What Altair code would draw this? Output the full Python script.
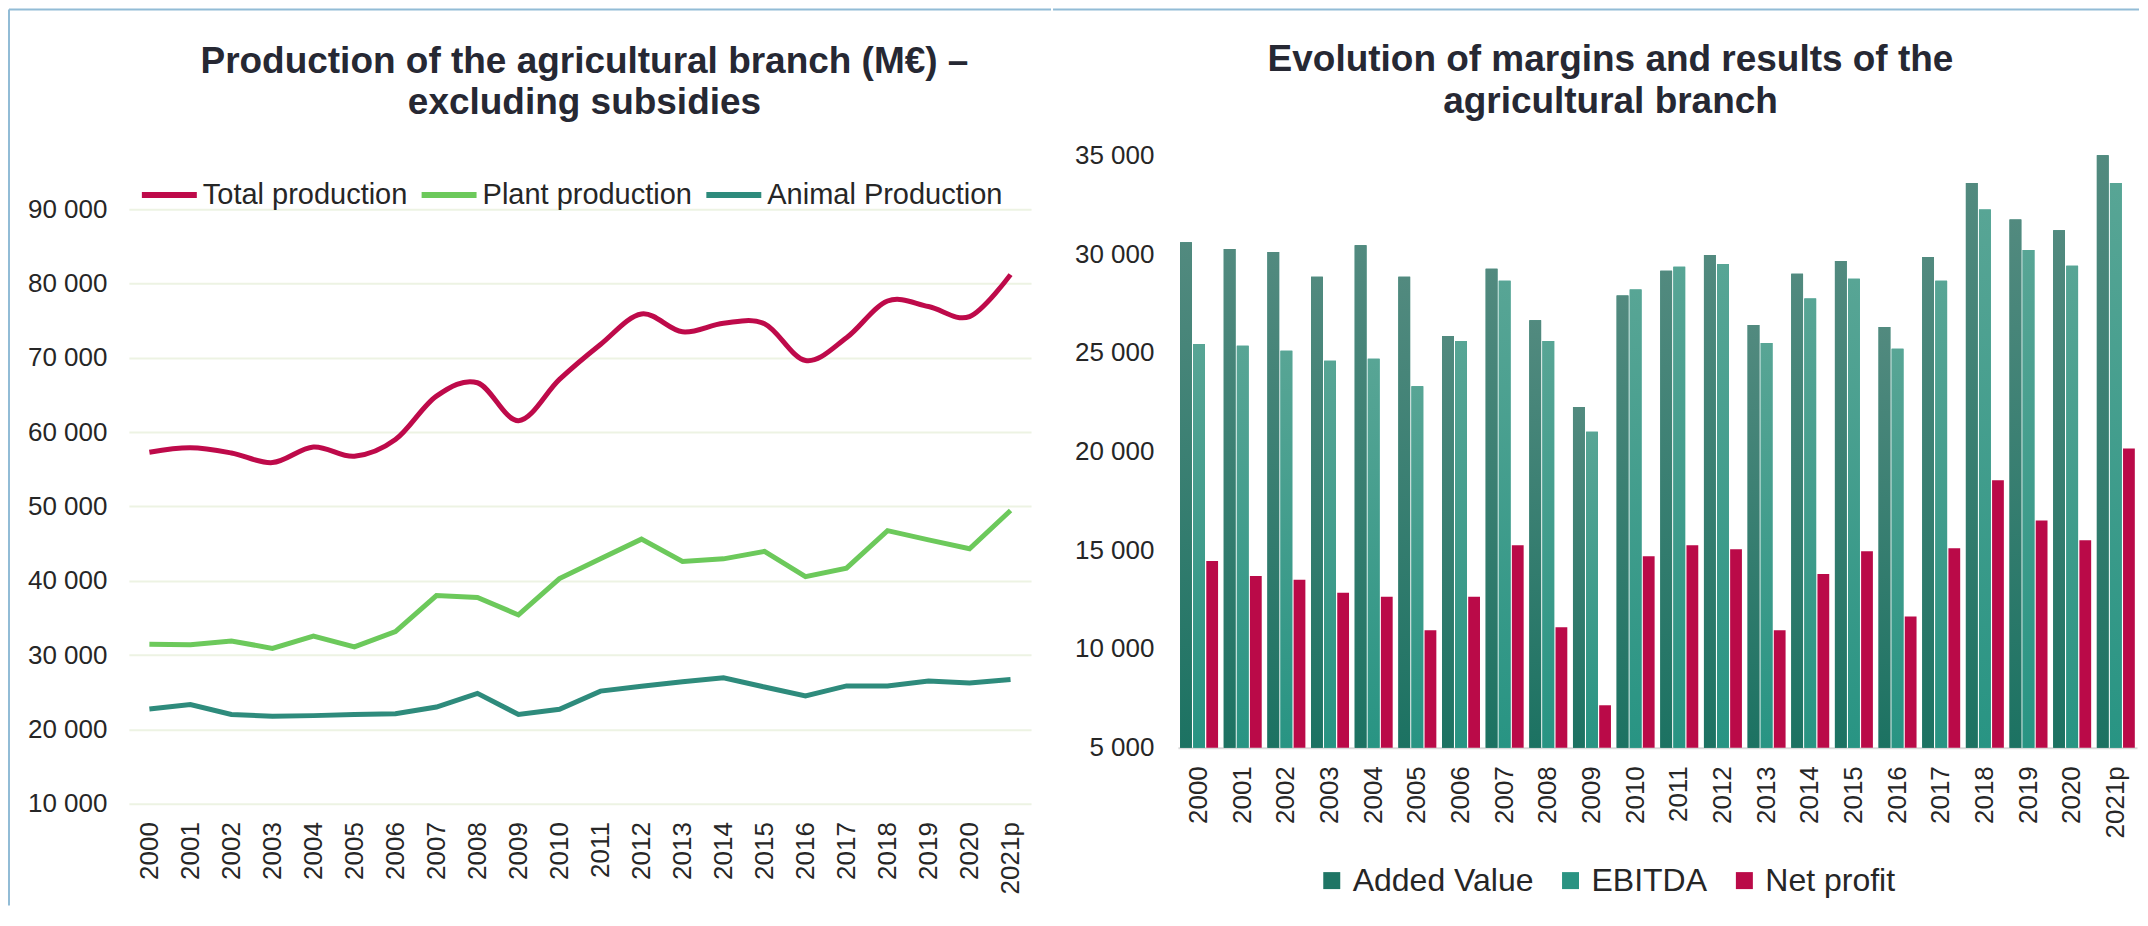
import altair as alt
import pandas as pd

years = ["2000", "2001", "2002", "2003", "2004", "2005", "2006", "2007", "2008", "2009", "2010",
         "2011", "2012", "2013", "2014", "2015", "2016", "2017", "2018", "2019", "2020", "2021p"]

total_production = [57300, 57900, 57200, 55900, 58000, 56750, 59000, 64850, 66650, 61550, 67100,
                    71800, 75900, 73500, 74650, 74600, 69650, 72700, 77650, 76900, 75550, 81200]
plant_production = [31450, 31400, 31900, 30900, 32550, 31100, 33150, 38000, 37750, 35400, 40300,
                    42950, 45600, 42600, 42950, 43950, 40550, 41700, 46750, 45500, 44300, 49450]
animal_production = [22750, 23350, 22000, 21750, 21850, 22000, 22100, 23000, 24850, 22000, 22700,
                     25150, 25800, 26400, 26950, 25700, 24500, 25850, 25850, 26500, 26250, 26700]

added_value = [30600, 30250, 30100, 28850, 30450, 28850, 25850, 29250, 26650, 22250, 27900,
               29150, 29950, 26400, 29000, 29650, 26300, 29850, 33600, 31750, 31200, 35000]
ebitda = [25450, 25350, 25100, 24600, 24700, 23300, 25600, 28650, 25600, 21000, 28200,
          29350, 29500, 25500, 27750, 28750, 25200, 28650, 32250, 30200, 29400, 33600]
net_profit = [14450, 13700, 13500, 12850, 12650, 10950, 12650, 15250, 11100, 7150, 14700,
              15250, 15050, 10950, 13800, 14950, 11650, 15100, 18550, 16500, 15500, 20150]

line_series = ["Total production", "Plant production", "Animal Production"]
line_colors = ["#BE0A4A", "#6CC95B", "#2E8B7C"]
bar_series = ["Added Value", "EBITDA", "Net profit"]
bar_colors = ["#1F7565", "#2A9382", "#BA0A48"]

left_title = ["Production of the agricultural branch (M€) –", "excluding subsidies"]
right_title = ["Evolution of margins and results of the", "agricultural branch"]

FONT = "Liberation Sans"
TEXT = "#262626"
BORDER = "#92BCD6"

lines_df = pd.DataFrame({
    "year": years * 3,
    "series": [line_series[0]] * 22 + [line_series[1]] * 22 + [line_series[2]] * 22,
    "value": total_production + plant_production + animal_production,
})
bars_df = pd.DataFrame({
    "year": years * 3,
    "series": [bar_series[0]] * 22 + [bar_series[1]] * 22 + [bar_series[2]] * 22,
    "value": added_value + ebitda + net_profit,
})
one = pd.DataFrame({"k": [0]})

fmt = "replace(format(datum.value, ',.0f'), ',', ' ')"

# both plot areas start at page y = 154
# ---------------- left chart ----------------
LW, LH = 903, 649
lx = alt.X("year:N", sort=years, title=None,
           axis=alt.Axis(labelAngle=-90, labelPadding=18, domain=False, ticks=False,
                         labelFontSize=26, labelFont=FONT, labelColor=TEXT))
ly = alt.Y("value:Q", title=None,
           scale=alt.Scale(domain=[10000, 97260], nice=False),
           axis=alt.Axis(values=list(range(10000, 90001, 10000)), labelExpr=fmt, domain=False,
                         ticks=False, labelPadding=22, labelFontSize=26, labelFont=FONT,
                         labelColor=TEXT, grid=True, gridColor="#EDF3E3", gridWidth=2))
lcolor = alt.Color("series:N", title=None,
                   scale=alt.Scale(domain=line_series, range=line_colors),
                   legend=alt.Legend(orient="none", legendX=10, legendY=9, direction="horizontal",
                                     symbolType="stroke", symbolSize=3025, symbolStrokeWidth=6,
                                     labelFontSize=29, labelFont=FONT, labelColor=TEXT,
                                     labelLimit=0, labelOffset=3, columnPadding=2))

total_line = alt.Chart(lines_df).transform_filter(
    alt.datum.series == line_series[0]
).mark_line(strokeWidth=5, interpolate="cardinal").encode(x=lx, y=ly, color=lcolor)
other_lines = alt.Chart(lines_df).transform_filter(
    alt.datum.series != line_series[0]
).mark_line(strokeWidth=5).encode(x=lx, y=ly, color=lcolor)

left_border = alt.Chart(one).mark_rule(color=BORDER, strokeWidth=2).encode(
    x=alt.value(-120), y=alt.value(-146), y2=alt.value(751))
left_top = alt.Chart(one).mark_rule(color=BORDER, strokeWidth=2).encode(
    x=alt.value(-120), x2=alt.value(LW + 20), y=alt.value(-146))
left_title_mark = alt.Chart(one).mark_text(
    align="center", baseline="alphabetic", fontSize=37, fontWeight="bold", font=FONT,
    color="#262833", lineHeight=41
).encode(x=alt.value(456), y=alt.value(-82), text=alt.value(left_title))

left = alt.layer(left_border, left_top, left_title_mark, other_lines, total_line).properties(
    width=LW, height=LH)

# ---------------- right chart ----------------
RW, RH = 960, 593
rx = alt.X("year:N", sort=years, title=None,
           scale=alt.Scale(paddingInner=0.13, paddingOuter=0.05),
           axis=alt.Axis(labelAngle=-90, labelPadding=18, domain=True, domainColor="#D9D9D9",
                         domainWidth=2, ticks=False, labelFontSize=26, labelFont=FONT,
                         labelColor=TEXT))
rxo = alt.XOffset("series:N", sort=bar_series, scale=alt.Scale(domain=bar_series, paddingInner=0.1))
ry = alt.Y("value:Q", title=None,
           scale=alt.Scale(domain=[5000, 35000], nice=False),
           axis=alt.Axis(values=list(range(5000, 35001, 5000)), labelExpr=fmt, domain=False,
                         ticks=False, grid=False, labelPadding=24, labelFontSize=26,
                         labelFont=FONT, labelColor=TEXT))
ry2 = alt.Y2(datum=5000)
rcolor = alt.Color("series:N", title=None, sort=bar_series,
                   scale=alt.Scale(domain=bar_series, range=bar_colors),
                   legend=alt.Legend(orient="none", legendX=138, legendY=710, direction="horizontal",
                                     symbolType="square", symbolSize=289, symbolStrokeWidth=0,
                                     labelFontSize=32, labelFont=FONT, labelColor=TEXT,
                                     labelLimit=0, labelOffset=5, columnPadding=21))

base_bars = alt.Chart(bars_df).mark_bar().encode(x=rx, xOffset=rxo, y=ry, y2=ry2, color=rcolor)


def grad(top, bottom):
    return alt.Gradient(gradient="linear", x1=0, x2=0, y1=0, y2=1,
                        stops=[alt.GradientStop(color=top, offset=0),
                               alt.GradientStop(color=bottom, offset=1)])


av_bars = alt.Chart(bars_df).transform_filter(alt.datum.series == bar_series[0]).mark_bar(
    color=grad("#528A7F", "#1C7262")).encode(x=rx, xOffset=rxo, y=ry, y2=ry2)
eb_bars = alt.Chart(bars_df).transform_filter(alt.datum.series == bar_series[1]).mark_bar(
    color=grad("#58A595", "#289483")).encode(x=rx, xOffset=rxo, y=ry, y2=ry2)

right_top = alt.Chart(one).mark_rule(color=BORDER, strokeWidth=2).encode(
    x=alt.value(-125), x2=alt.value(RW + 2), y=alt.value(-146))
right_title_mark = alt.Chart(one).mark_text(
    align="center", baseline="alphabetic", fontSize=37, fontWeight="bold", font=FONT,
    color="#262833", lineHeight=42
).encode(x=alt.value(433), y=alt.value(-84), text=alt.value(right_title))

right = alt.layer(right_top, right_title_mark, base_bars, av_bars, eb_bars).properties(
    width=RW, height=RH)

chart = alt.hconcat(left, right, spacing=0).resolve_scale(
    color="independent", x="independent", y="independent"
).resolve_legend(color="independent").properties(
    padding=0, background="white"
).configure_view(stroke=None)

chart.save("out.html", embed_options={"renderer": "svg", "actions": False})
